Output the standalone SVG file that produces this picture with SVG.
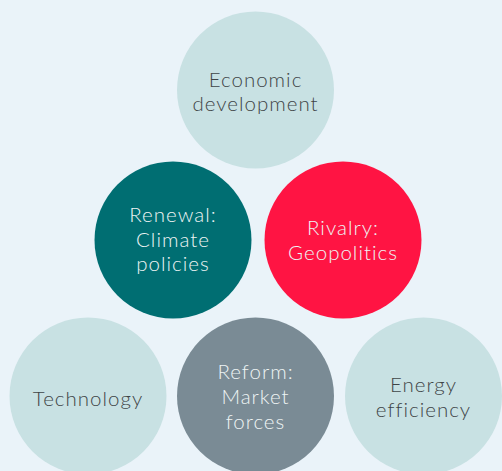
<svg xmlns="http://www.w3.org/2000/svg" width="502" height="471" viewBox="0 0 502 471">
<style>
.light{fill:#c8e1e3}
.t{font-family:Lato,"Open Sans",sans-serif;font-size:20.5px;font-weight:300;text-anchor:middle;letter-spacing:1px}
.dk{fill:#3f4547}
.wt{fill:#eef4f4}
</style>
<rect width="502" height="471" fill="#eaf3f9"/>
<g id="connectors"></g>
<g id="economic">
<circle class="light" cx="255.5" cy="90" r="78.5"/>
<text class="t dk" x="255.5" y="87">Economic</text>
<text class="t dk" x="255.5" y="111">development</text>
</g>
<g id="renewal">
<circle cx="173" cy="240" r="78.5" fill="#006e72"/>
<text class="t wt" x="173" y="222">Renewal:</text>
<text class="t wt" x="173" y="247">Climate</text>
<text class="t wt" x="173" y="271">policies</text>
</g>
<g id="rivalry">
<circle cx="343" cy="240" r="78.5" fill="#ff1443"/>
<text class="t wt" x="343" y="235">Rivalry:</text>
<text class="t wt" x="343" y="260">Geopolitics</text>
</g>
<g id="technology">
<circle class="light" cx="88" cy="396" r="78.5"/>
<text class="t dk" x="88" y="406">Technology</text>
</g>
<g id="reform">
<circle cx="255.5" cy="396" r="78.5" fill="#7a8b95"/>
<text class="t wt" x="255.5" y="379">Reform:</text>
<text class="t wt" x="255.5" y="404">Market</text>
<text class="t wt" x="255.5" y="429">forces</text>
</g>
<g id="energy">
<circle class="light" cx="423.5" cy="396" r="78.5"/>
<text class="t dk" x="423.5" y="392">Energy</text>
<text class="t dk" x="423.5" y="417">efficiency</text>
</g>
</svg>
